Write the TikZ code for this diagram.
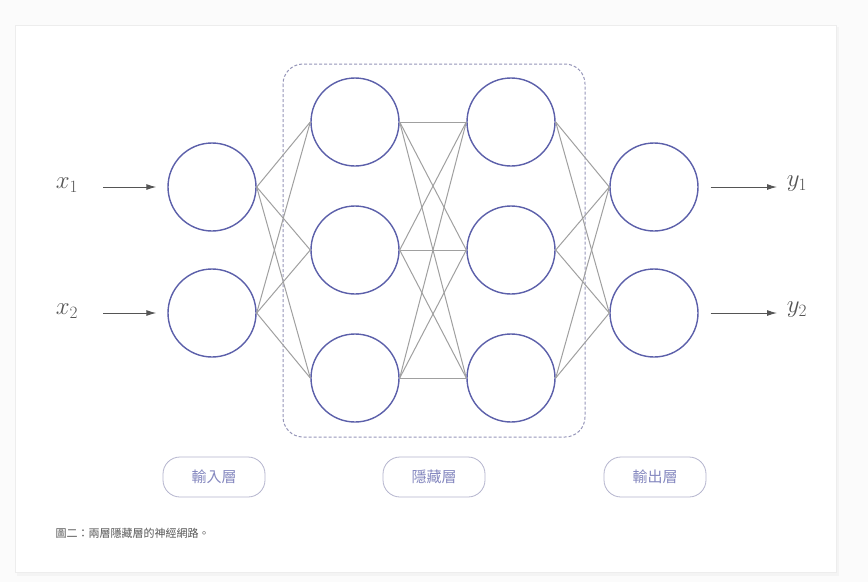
\documentclass[tikz,border=0pt]{standalone}
\usepackage{fontspec}
\newfontfamily\cjk{Noto Sans CJK TC}
\usepackage{tikz}
\usetikzlibrary{arrows,arrows.meta,shapes}
\definecolor{nodeblue}{RGB}{92,96,170}
\definecolor{edgegray}{RGB}{160,160,160}
\definecolor{textgray}{RGB}{85,85,85}
\definecolor{boxgray}{RGB}{150,150,185}

\tikzset{
  neuron/.style={circle,draw=nodeblue,line width=1.4pt,minimum size=88pt,inner sep=0pt},
  synapse/.style={draw=edgegray,line width=1pt},
  signal/.style={-{Latex[length=10pt,width=6pt]},draw=textgray,line width=1pt},
  varlabel/.style={text=textgray,font=\fontsize{25}{25}\selectfont},
  layerlabel/.style={draw=boxgray!70,line width=0.8pt,rounded corners=17pt,minimum width=102pt,minimum height=40pt,
    text=nodeblue!75,font=\cjk\fontsize{15}{15}\selectfont}
}

\begin{document}
\begin{tikzpicture}[x=1pt,y=-1pt]
    \useasboundingbox (0,0) rectangle (868,582);
    \fill[gray!3] (0,0) rectangle (868,582);
    \fill[gray!9] (17,27) rectangle (839,576);
    \draw[gray!14,fill=white] (15,25) rectangle (836,572);
    % hidden block
    \draw[boxgray,line width=1pt,dash pattern=on 3pt off 2pt,rounded corners=20pt] (283,64) rectangle (585,437);
    % neurons
    \foreach \i/\y in {1/187,2/313} {
      \node[neuron] (in\i) at (212,\y) {};
      \node[neuron] (out\i) at (654,\y) {};
    }
    \foreach \i/\y in {1/122,2/250,3/378} {
      \node[neuron] (ha\i) at (355,\y) {};
      \node[neuron] (hb\i) at (511,\y) {};
    }
    % weights
    \foreach \a in {1,2}
      \foreach \b in {1,2,3} {
        \draw[synapse] (in\a.east) -- (ha\b.west);
        \draw[synapse] (hb\b.east) -- (out\a.west);
      }
    \foreach \a in {1,2,3}
      \foreach \b in {1,2,3}
        \draw[synapse] (ha\a.east) -- (hb\b.west);
    % inputs and outputs
    \node[varlabel] (x1) at (67,185) {$x_1$};
    \node[varlabel] (x2) at (67,311) {$x_2$};
    \node[varlabel] (y1) at (797,184) {$y_1$};
    \node[varlabel] (y2) at (797,310) {$y_2$};
    \draw[signal,shorten <=36pt,shorten >=11pt] (x1.center |- in1.west) -- (in1.west);
    \draw[signal,shorten <=36pt,shorten >=11pt] (x2.center |- in2.west) -- (in2.west);
    \draw[signal,shorten <=12pt,shorten >=20pt] (out1.east) -- (y1.center |- out1.east);
    \draw[signal,shorten <=12pt,shorten >=20pt] (out2.east) -- (y2.center |- out2.east);
    % layer names
    \node[layerlabel] (lin) at (214,477) {輸入層};
    \node[layerlabel] (lhid) at (434,477) {隱藏層};
    \node[layerlabel] (lout) at (655,477) {輸出層};
    \node[anchor=west,text=textgray,font=\cjk\fontsize{11}{11}\selectfont] (cap) at (52,533) {圖二：兩層隱藏層的神經網路。};
\end{tikzpicture}
\end{document}
